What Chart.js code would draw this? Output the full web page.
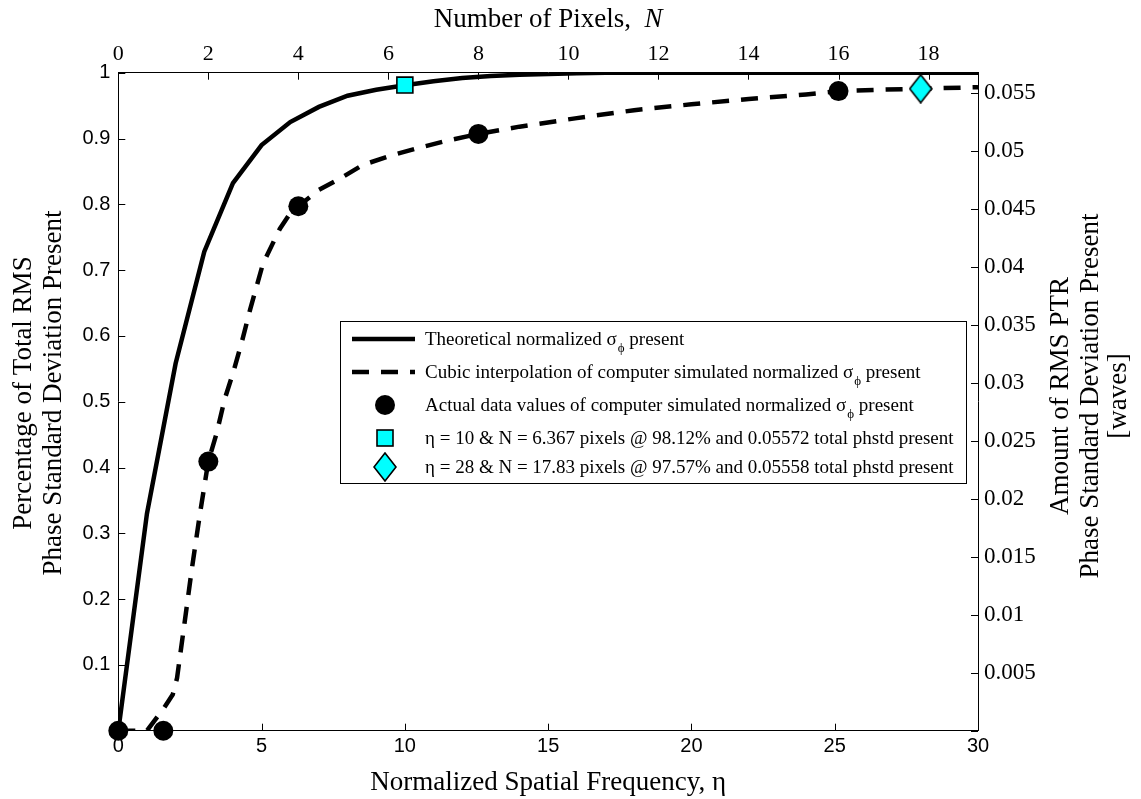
<!DOCTYPE html>
<html>
<head>
<meta charset="UTF-8">
<title>Normalized phase standard deviation</title>
<script src="https://cdn.jsdelivr.net/npm/chart.js@4.4.1/dist/chart.umd.min.js"></script>
<style>
  html, body { margin: 0; padding: 0; background: #fff; }
</style>
</head>
<body>
<canvas id="myChart" width="1141" height="799"></canvas>
<script>
const thEta = [0,1,2,3,4,5,6,7,8,9,10,11,12,13,14,15,16,17,18,19,20,21,22,23,24,25,26,27,28,29,30];
const thVal = [0,0.33,0.558,0.728,0.832,0.890,0.925,0.948,0.965,0.974,0.981,0.987,0.992,0.995,0.997,0.998,0.999,1,1,1,1,1,1,1,1,1,1,1,1,1,1];
// cubic interpolation of simulated values
const cubEta = [0,1.0,1.6,1.9,2.05,2.3,2.56,2.85,3.14,3.43,3.72,4.0,4.3,4.6,5.05,5.64,6.04,6.28,7.0,7.73,8.54,9.59,10.5,11.5,12.57,14,16,18,20,22,24,25.13,26.5,28,30];
const cubVal = [0,0,0.035,0.055,0.08,0.16,0.244,0.33,0.409,0.452,0.505,0.543,0.589,0.64,0.71,0.763,0.789,0.797,0.822,0.839,0.860,0.875,0.886,0.897,0.907,0.918,0.931,0.943,0.952,0.960,0.967,0.972,0.974,0.9757,0.978];
// actual simulated data (N = 0,1,2,4,8,16 pixels)
const simEta = [0,1.571,3.142,6.283,12.566,25.133];
const simVal = [0,0,0.409,0.797,0.907,0.972];
// highlighted points
const sqEta = [10];   const sqVal = [0.9812];
const diaEta = [28];  const diaVal = [0.9757];

const etaTicks = 5;
const pixTicks = 2;
const pctTicks = 0.1;
const wavTicks = 0.005;
const N_MAX = 30 * 2 / Math.PI;     // N = 2*eta/pi
const WAVES_MAX = 0.05572 / 0.9812; // total phstd

const legendRows = [
  ['Theoretical normalized ', ' present'],
  ['Cubic interpolation of computer simulated normalized ', ' present'],
  ['Actual data values of computer simulated normalized ', ' present'],
  ['\u03B7 = 10 & N = 6.367 pixels @ 98.12% and 0.05572 total phstd present'],
  ['\u03B7 = 28 & N = 17.83 pixels @ 97.57% and 0.05558 total phstd present']
];

const SERIF = '"Liberation Serif", "Times New Roman", serif';
const SANS = '"Liberation Sans", Arial, sans-serif';
const CYAN = '#00FFFF';

function xy(xs, ys) { return xs.map((x, i) => ({x: x, y: ys[i]})); }

// tall diamond marker
function makeDiamond(w, h) {
  const c = document.createElement('canvas');
  c.width = w; c.height = h;
  const g = c.getContext('2d');
  g.beginPath();
  g.moveTo(w/2, 1); g.lineTo(w-1, h/2); g.lineTo(w/2, h-1); g.lineTo(1, h/2); g.closePath();
  g.fillStyle = CYAN; g.fill();
  g.lineWidth = 1.6; g.strokeStyle = '#000'; g.stroke();
  return c;
}
const diamondImg = makeDiamond(24, 30);

function drawSigma(ctx, x, y, size) {
  ctx.font = size + 'px ' + SERIF;
  ctx.fillText('\u03C3', x, y);
  x += ctx.measureText('\u03C3').width;
  ctx.font = Math.round(size*0.68) + 'px ' + SERIF;
  ctx.fillText('\u03D5', x + 1, y + 7);
  x += ctx.measureText('\u03D5').width + 1;
  ctx.font = size + 'px ' + SERIF;
  return x;
}

const decor = {
  id: 'decor',
  afterDraw(chart) {
    const ctx = chart.ctx, a = chart.chartArea, s = chart.scales;
    ctx.save();
    // inward tick marks
    const T = 7;
    ctx.strokeStyle = '#000'; ctx.lineWidth = 1;
    ctx.beginPath();
    s.x.ticks.forEach(t => { const p = Math.round(s.x.getPixelForValue(t.value)) + 0.5; ctx.moveTo(p, a.bottom); ctx.lineTo(p, a.bottom - T); });
    s.xTop.ticks.forEach(t => { const p = Math.round(s.xTop.getPixelForValue(t.value)) + 0.5; ctx.moveTo(p, a.top); ctx.lineTo(p, a.top + T); });
    s.y.ticks.forEach(t => { const p = Math.round(s.y.getPixelForValue(t.value)) + 0.5; ctx.moveTo(a.left, p); ctx.lineTo(a.left + T, p); });
    s.yRight.ticks.forEach(t => { const p = Math.round(s.yRight.getPixelForValue(t.value)) + 0.5; ctx.moveTo(a.right, p); ctx.lineTo(a.right - T, p); });
    ctx.stroke();

    // axis titles
    ctx.fillStyle = '#000';
    const TS = 27;
    ctx.textBaseline = 'alphabetic';
    // top
    const t1 = 'Number of Pixels,  ';
    ctx.font = TS + 'px ' + SERIF;
    const w1 = ctx.measureText(t1).width;
    ctx.font = 'italic ' + TS + 'px ' + SERIF;
    const w2 = ctx.measureText('N').width;
    let tx = (a.left + a.right) / 2 - (w1 + w2) / 2;
    ctx.font = TS + 'px ' + SERIF;
    ctx.textAlign = 'left';
    ctx.fillText(t1, tx, 27);
    ctx.font = 'italic ' + TS + 'px ' + SERIF;
    ctx.fillText('N', tx + w1, 27);
    // bottom
    ctx.font = TS + 'px ' + SERIF;
    ctx.textAlign = 'center';
    ctx.fillText('Normalized Spatial Frequency, \u03B7', (a.left + a.right) / 2, 790);
    // left
    ctx.save();
    ctx.translate(0, 393);
    ctx.rotate(-Math.PI / 2);
    ctx.fillText('Percentage of Total RMS', 0, 31);
    ctx.fillText('Phase Standard Deviation Present', 0, 61);
    ctx.restore();
    // right
    ctx.save();
    ctx.translate(0, 396);
    ctx.rotate(-Math.PI / 2);
    ctx.fillText('Amount of RMS PTR', 0, 1068);
    ctx.fillText('Phase Standard Deviation Present', 0, 1098);
    ctx.fillText('[waves]', 0, 1126);
    ctx.restore();

    // legend box
    const L = {left: 340, top: 321, right: 966, bottom: 483};
    ctx.fillStyle = '#fff';
    ctx.fillRect(L.left, L.top, L.right - L.left, L.bottom - L.top);
    ctx.strokeStyle = '#000'; ctx.lineWidth = 1;
    ctx.strokeRect(L.left + 0.5, L.top + 0.5, L.right - L.left, L.bottom - L.top);
    const rowY = [339, 372, 405, 438, 467];
    const sx0 = 352, sx1 = 415, mx = 385, textX = 425;
    // samples
    ctx.lineWidth = 4.5; ctx.lineCap = 'butt';
    ctx.beginPath(); ctx.moveTo(sx0, rowY[0]); ctx.lineTo(sx1, rowY[0]); ctx.stroke();
    ctx.setLineDash([17, 12]);
    ctx.beginPath(); ctx.moveTo(sx0, rowY[1]); ctx.lineTo(sx1, rowY[1]); ctx.stroke();
    ctx.setLineDash([]);
    ctx.fillStyle = '#000';
    ctx.beginPath(); ctx.arc(mx, rowY[2], 10, 0, Math.PI * 2); ctx.fill();
    ctx.fillStyle = CYAN; ctx.lineWidth = 1.6;
    ctx.fillRect(mx - 8, rowY[3] - 8, 16, 16); ctx.strokeRect(mx - 8, rowY[3] - 8, 16, 16);
    ctx.drawImage(diamondImg, mx - 12, rowY[4] - 15);
    // texts
    const LS = 19;
    ctx.fillStyle = '#000';
    ctx.textAlign = 'left';
    ctx.font = LS + 'px ' + SERIF;
    legendRows.forEach((r, i) => {
      const by = rowY[i] + 6;
      if (r.length === 2) {
        ctx.fillText(r[0], textX, by);
        let x = textX + ctx.measureText(r[0]).width;
        x = drawSigma(ctx, x, by, LS);
        ctx.fillText(r[1], x, by);
      } else {
        ctx.fillText(r[0], textX, by);
      }
    });
    ctx.restore();
  }
};

const ctx = document.getElementById('myChart').getContext('2d');
const myChart = new Chart(ctx, {
  type: 'scatter',
  data: {
    datasets: [
      { label: 'square', data: xy(sqEta, sqVal), pointStyle: 'rect', pointRadius: 11.3, pointHoverRadius: 11.3,
        backgroundColor: CYAN, borderColor: '#000', borderWidth: 1.6, order: 0, clip: false },
      { label: 'diamond', data: xy(diaEta, diaVal), pointStyle: diamondImg, order: 0, clip: false },
      { label: 'data', data: xy(simEta, simVal), pointStyle: 'circle', pointRadius: 10, pointHoverRadius: 10,
        backgroundColor: '#000', borderColor: '#000', borderWidth: 0, order: 1, clip: false },
      { label: 'cubic', data: xy(cubEta, cubVal), showLine: true, pointRadius: 0, borderColor: '#000',
        borderWidth: 4.5, borderDash: [17, 12], tension: 0, order: 2, clip: 0 },
      { label: 'theory', data: xy(thEta, thVal), showLine: true, pointRadius: 0, borderColor: '#000',
        borderWidth: 4.5, tension: 0, order: 3, clip: 0 }
    ]
  },
  options: {
    responsive: false,
    animation: false,
    devicePixelRatio: 1,
    layout: { padding: 0 },
    plugins: { legend: { display: false }, tooltip: { enabled: false }, title: { display: false } },
    scales: {
      x: {
        type: 'linear', position: 'bottom', min: 0, max: 30,
        grid: { display: false, drawTicks: false },
        border: { display: true, color: '#000', width: 1 },
        ticks: { stepSize: etaTicks, color: '#000', padding: 4, autoSkip: false, maxRotation: 0,
                 font: { family: SANS, size: 20 } },
        afterFit: sc => { sc.height = 68.3; }
      },
      xTop: {
        type: 'linear', position: 'top', min: 0, max: N_MAX,
        grid: { display: false, drawTicks: false },
        border: { display: true, color: '#000', width: 1 },
        ticks: { stepSize: pixTicks, includeBounds: false, color: '#000', padding: 5, autoSkip: false, maxRotation: 0,
                 font: { family: SERIF, size: 22 }, callback: v => String(Math.round(v)) },
        afterFit: sc => { sc.height = 72.7; }
      },
      y: {
        type: 'linear', position: 'left', min: 0, max: 1,
        grid: { display: false, drawTicks: false },
        border: { display: true, color: '#000', width: 1 },
        ticks: { stepSize: pctTicks, color: '#000', padding: 8, autoSkip: false,
                 font: { family: SANS, size: 20 }, callback: v => v === 0 ? '' : String(+v.toFixed(1)) },
        afterFit: sc => { sc.width = 118.3; }
      },
      yRight: {
        type: 'linear', position: 'right', min: 0, max: WAVES_MAX,
        grid: { display: false, drawTicks: false },
        border: { display: true, color: '#000', width: 1 },
        ticks: { stepSize: wavTicks, includeBounds: false, color: '#000', padding: 6, autoSkip: false,
                 font: { family: SERIF, size: 23 }, callback: v => v === 0 ? '' : String(+v.toFixed(3)) },
        afterFit: sc => { sc.width = 163; }
      }
    }
  },
  plugins: [decor]
});
</script>
</body>
</html>
